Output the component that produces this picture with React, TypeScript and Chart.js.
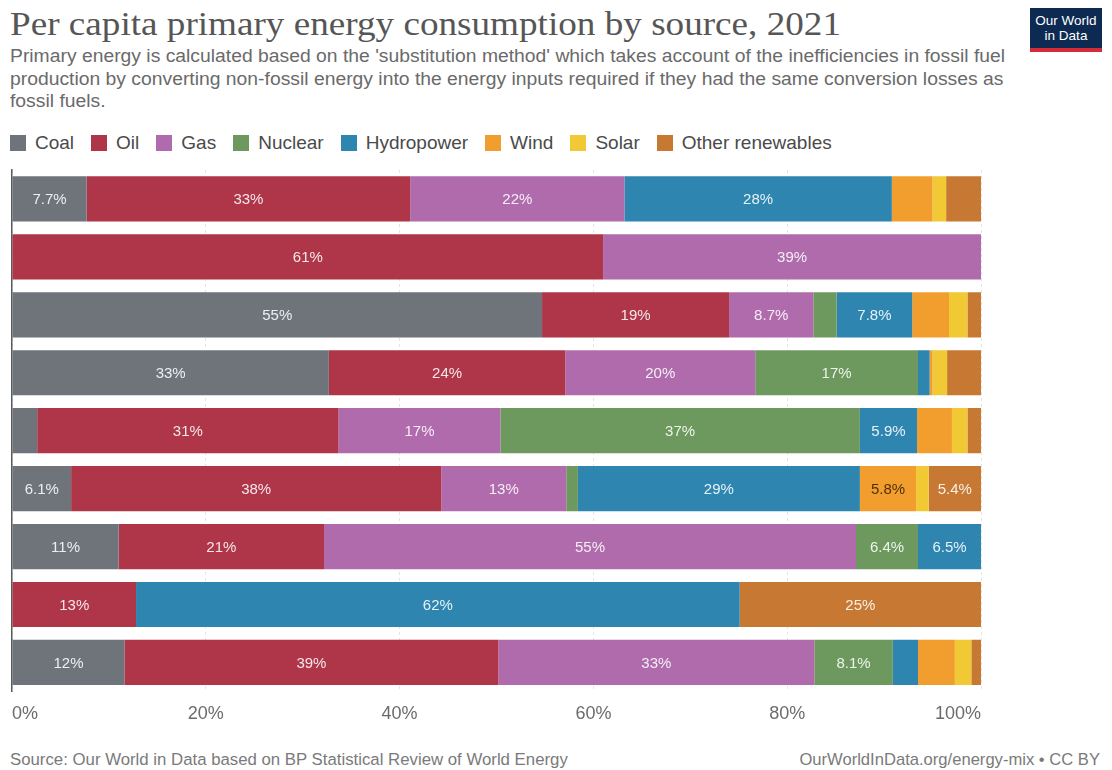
import React, { useEffect, useRef } from "react";
import { Chart, registerables } from "chart.js";

Chart.register(...registerables);

const categories = ["Austria", "Saudi Arabia", "China", "Czechia", "France", "Brazil", "Russia", "Iceland", "United States"];
const sources = ["Coal", "Oil", "Gas", "Nuclear", "Hydropower", "Wind", "Solar", "Other renewables"];
const sourceColors = ["#6f747b", "#ae3648", "#b06bad", "#6d995e", "#2e86b0", "#f29e2e", "#f1c935", "#c77933"];
const labelColors = ["rgba(255,255,255,0.88)", "rgba(255,255,255,0.88)", "rgba(255,255,255,0.88)", "rgba(255,255,255,0.88)", "rgba(255,255,255,0.88)", "rgba(50,25,0,0.85)", "rgba(50,25,0,0.85)", "rgba(255,255,255,0.88)"];

const coal = [7.7, 0, 54.7, 32.7, 2.6, 6.1, 11.0, 0, 11.6];
const oil = [33.4, 61.0, 19.3, 24.4, 31.1, 38.2, 21.2, 12.8, 38.6];
const gas = [22.1, 39.0, 8.7, 19.6, 16.7, 12.9, 54.9, 0, 32.6];
const nuclear = [0, 0, 2.4, 16.8, 37.1, 1.2, 6.4, 0, 8.1];
const hydropower = [27.6, 0, 7.8, 1.2, 5.9, 29.1, 6.5, 62.3, 2.6];
const wind = [4.2, 0, 3.8, 0.3, 3.6, 5.8, 0, 0, 3.8];
const solar = [1.4, 0, 1.9, 1.5, 1.6, 1.3, 0, 0, 1.7];
const otherRenewables = [3.6, 0, 1.4, 3.5, 1.4, 5.4, 0, 24.9, 1.0];

const seriesValues = [coal, oil, gas, nuclear, hydropower, wind, solar, otherRenewables];
const xTickValues = [0, 20, 40, 60, 80, 100];

const TITLE = "Per capita primary energy consumption by source, 2021";
const SUBTITLE_LINES = [
  "Primary energy is calculated based on the 'substitution method' which takes account of the inefficiencies in fossil fuel",
  "production by converting non-fossil energy into the energy inputs required if they had the same conversion losses as",
  "fossil fuels.",
];
const SOURCE_TEXT = "Source: Our World in Data based on BP Statistical Review of World Energy";
const URL_TEXT = "OurWorldInData.org/energy-mix • CC BY";

const LABEL_MIN = 5;

const barLabelPlugin = {
  id: "barLabels",
  afterDatasetsDraw(chart: any) {
    const ctx = chart.ctx;
    ctx.save();
    ctx.font = "15px 'Liberation Sans', Arial, sans-serif";
    ctx.textAlign = "center";
    ctx.textBaseline = "middle";
    chart.data.datasets.forEach((ds: any, i: number) => {
      const meta = chart.getDatasetMeta(i);
      meta.data.forEach((el: any, j: number) => {
        const v = ds.data[j];
        if (v < LABEL_MIN) return;
        const x = (el.x + el.base) / 2;
        ctx.fillStyle = labelColors[i];
        ctx.fillText(Number(v).toPrecision(2) + "%", x, el.y + 1);
      });
    });
    ctx.restore();
  },
};

function ChartCanvas() {
  const ref = useRef<HTMLCanvasElement | null>(null);
  useEffect(() => {
    if (!ref.current) return;
    const chart = new Chart(ref.current, {
      type: "bar",
      data: {
        labels: categories,
        datasets: sources.map((s, i) => ({
          label: s,
          data: seriesValues[i],
          backgroundColor: sourceColors[i],
          borderWidth: 0,
          barPercentage: 0.78,
          categoryPercentage: 1,
        })),
      },
      options: {
        indexAxis: "y",
        responsive: false,
        animation: false,
        events: [],
        layout: { padding: { left: 10, right: 131, top: 10, bottom: 5 } },
        plugins: { legend: { display: false }, tooltip: { enabled: false }, title: { display: false } },
        scales: {
          x: {
            stacked: true,
            min: 0,
            max: 100,
            afterBuildTicks: (scale: any) => {
              scale.ticks = xTickValues.map((v) => ({ value: v }));
            },
            ticks: {
              callback: (v: any) => v + "%",
              font: { size: 18, family: "'Liberation Sans', Arial, sans-serif" },
              color: "#6b6b6b",
              padding: 12,
              align: "inner",
              maxRotation: 0,
            },
            grid: { color: "#e4e4e4", drawTicks: false, lineWidth: 1 },
            border: { display: false, dash: [3, 3] },
          },
          y: {
            stacked: true,
            ticks: { display: false },
            grid: { display: false, drawTicks: false },
            border: { display: true, color: "#5a5a5a", width: 1.5 },
          },
        },
      },
      plugins: [barLabelPlugin],
    } as any);
    return () => chart.destroy();
  }, []);
  return (
    <canvas
      ref={ref}
      width={1112}
      height={582}
      style={{ position: "absolute", left: 0, top: 160, width: 1112, height: 582 }}
    />
  );
}

export default function App() {
  const sans = "'Liberation Sans', Arial, sans-serif";
  return (
    <div style={{ position: "absolute", left: 0, top: 0, width: 1112, height: 770, background: "#fff", overflow: "hidden", fontFamily: sans }}>
      <div style={{ position: "absolute", left: 10, top: 3.4, fontFamily: "'Liberation Serif', 'DejaVu Serif', serif", fontSize: 34.5, lineHeight: "40px", color: "#565656", whiteSpace: "nowrap", transform: "scaleX(1.077)", transformOrigin: "0 0" }}>
        {TITLE}
      </div>
      <div style={{ position: "absolute", left: 10, top: 45, fontSize: 17.5, lineHeight: "22.6px", color: "#6a6a6a", whiteSpace: "nowrap", transform: "scaleX(1.104)", transformOrigin: "0 0" }}>
        {SUBTITLE_LINES.map((l, i) => (
          <div key={i}>{l}</div>
        ))}
      </div>
      <div style={{ position: "absolute", left: 1030, top: 8, width: 72, height: 44, background: "#0c2a52", color: "#fff", fontSize: 13.5, lineHeight: "15px", textAlign: "center", boxSizing: "border-box", paddingTop: 5, borderBottom: "4px solid #d42b3a" }}>
        Our World
        <br />
        in Data
      </div>
      <div style={{ position: "absolute", left: 10, top: 132, height: 22, display: "flex", alignItems: "center", fontSize: 19, color: "#4a4a4a", whiteSpace: "nowrap" }}>
        {sources.map((s, i) => (
          <div key={s} style={{ display: "flex", alignItems: "center", marginRight: 17 }}>
            <span style={{ display: "inline-block", width: 16, height: 16, background: sourceColors[i], marginRight: 9 }} />
            <span>{s}</span>
          </div>
        ))}
      </div>
      <ChartCanvas />
      <div style={{ position: "absolute", left: 10, top: 750, fontSize: 16.8, lineHeight: "20px", color: "#7a7a7a", whiteSpace: "nowrap" }}>
        {SOURCE_TEXT}
      </div>
      <div style={{ position: "absolute", right: 12, top: 750, fontSize: 16.6, lineHeight: "20px", color: "#7a7a7a", whiteSpace: "nowrap" }}>
        {URL_TEXT}
      </div>
    </div>
  );
}
